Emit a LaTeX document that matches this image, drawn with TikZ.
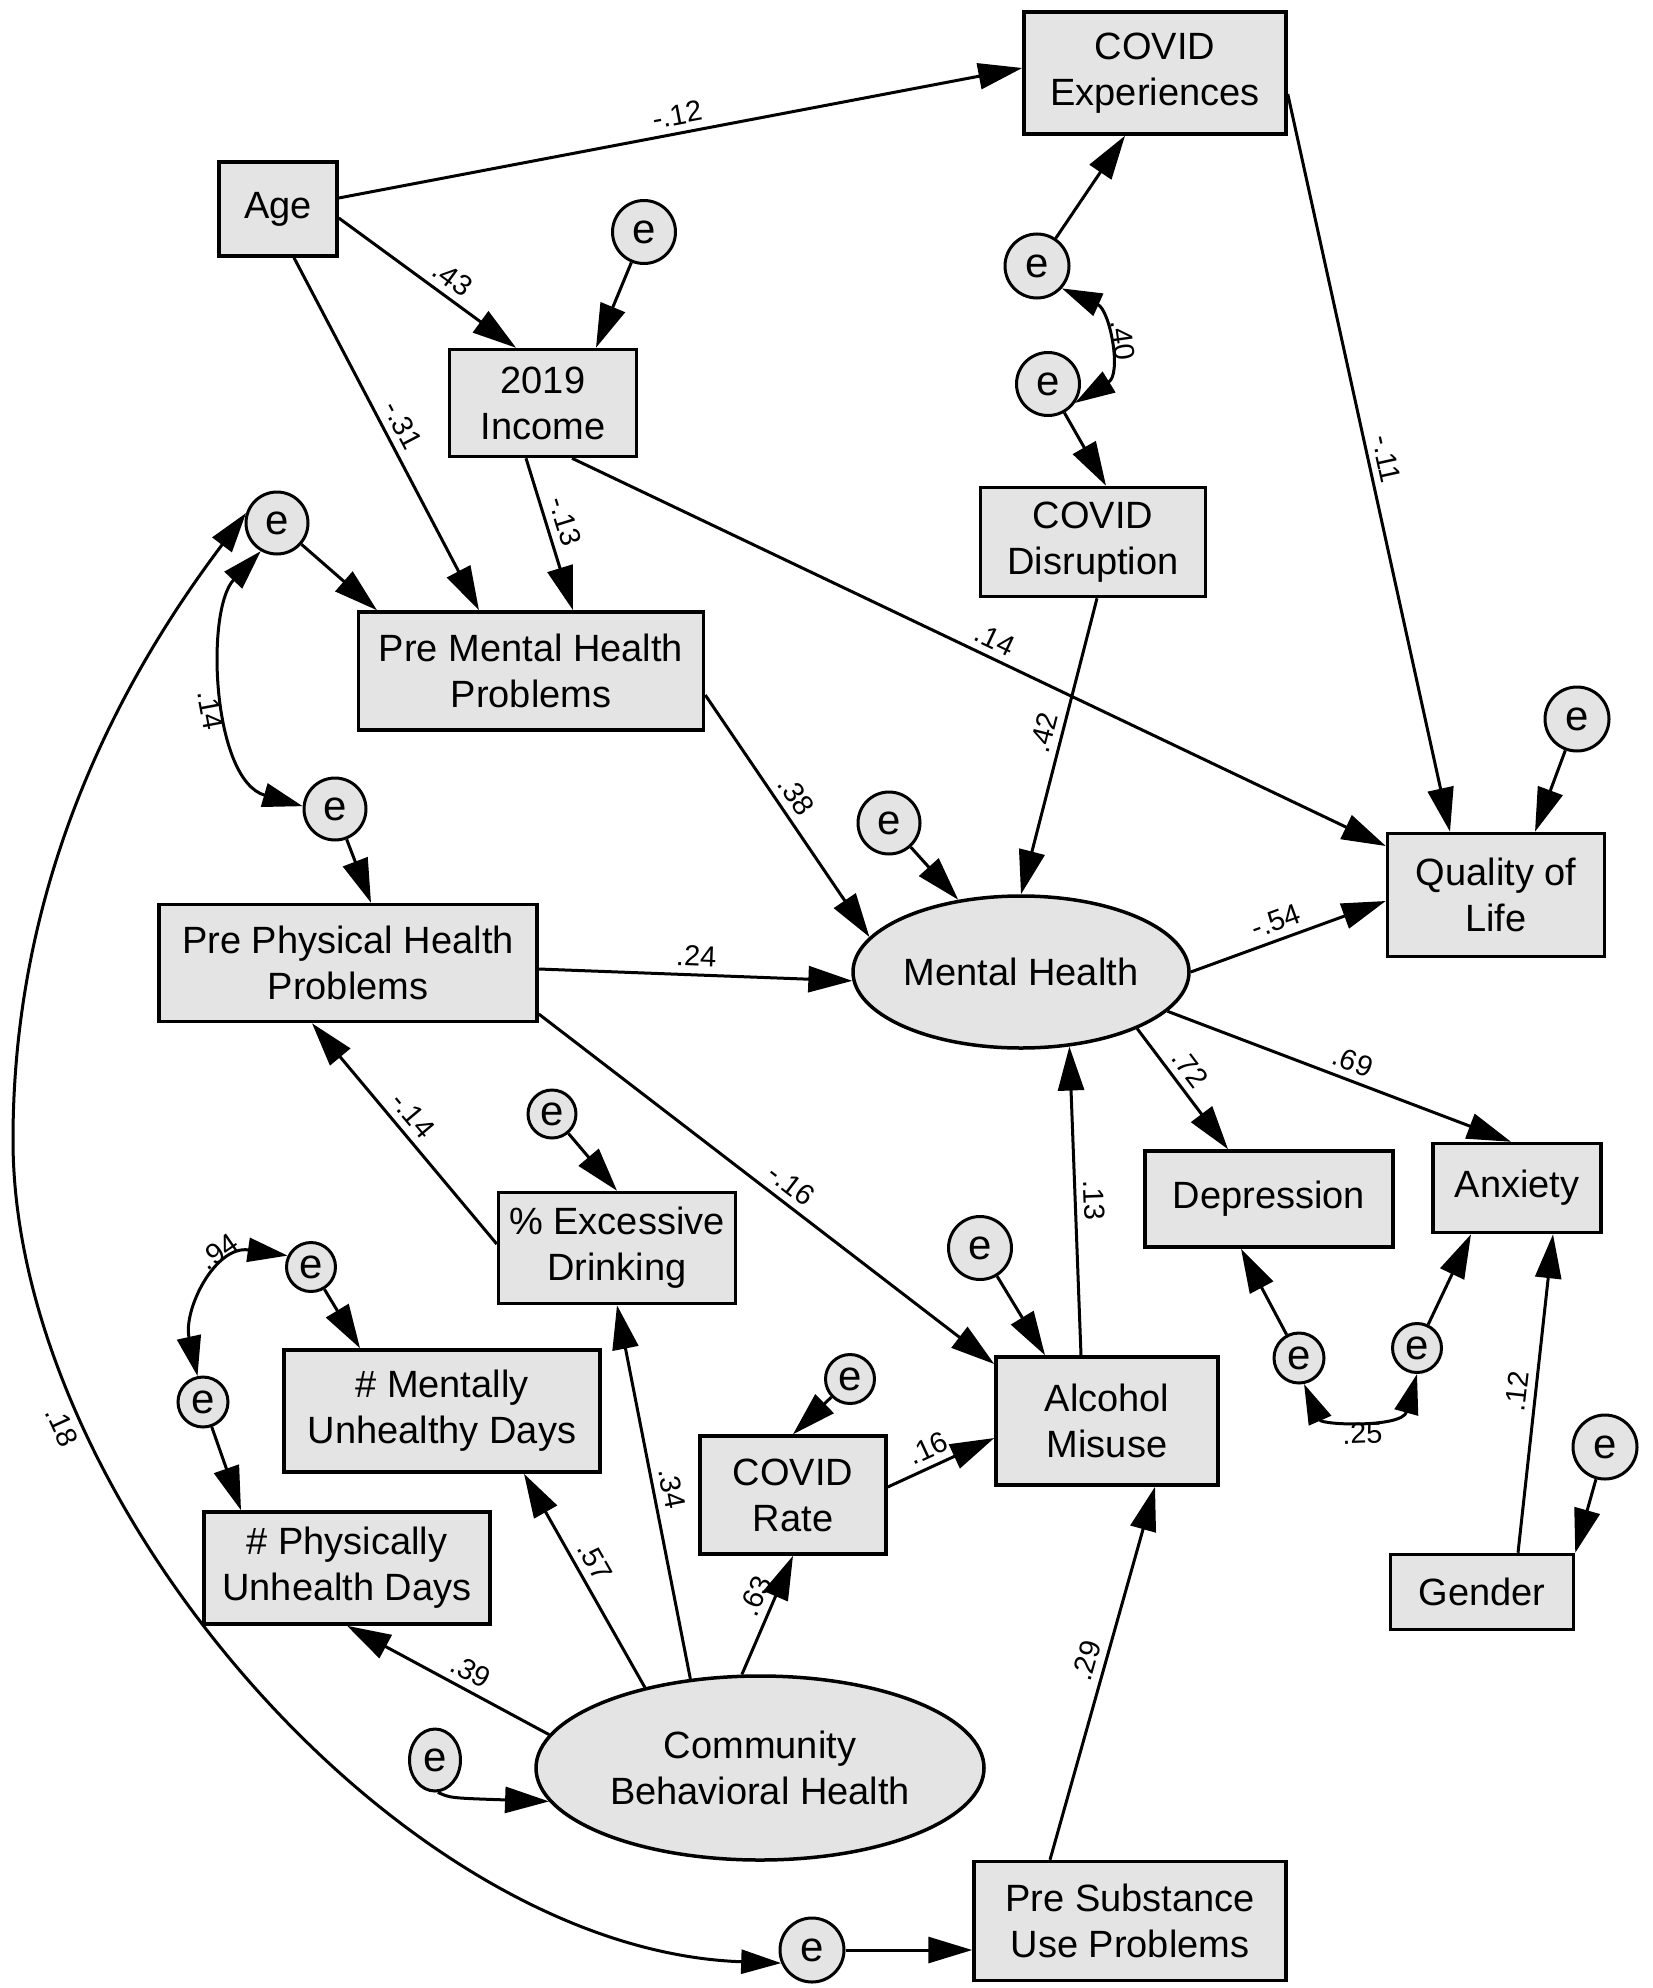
\documentclass[tikz,border=0pt]{standalone}
\usepackage{fontspec}
\setmainfont{Liberation Sans}
\usetikzlibrary{arrows.meta,shapes.geometric}
\definecolor{boxgray}{RGB}{228,228,228}
\begin{document}
\begin{tikzpicture}[x=1pt,y=-1pt,
  box/.style={draw=black,line width=3.5pt,fill=boxgray,inner sep=0pt,align=center,font=\fontsize{38}{46}\selectfont},
  lat/.style={box,ellipse},
  err/.style={circle,draw=black,line width=3pt,fill=boxgray,inner sep=0pt,font=\fontsize{42}{42}\selectfont},
  arr/.style={line width=3pt,-{Triangle[length=44pt,width=26pt]}},
  cov/.style={line width=3pt,{Triangle[length=40pt,width=24pt]}-{Triangle[length=40pt,width=24pt]}},
  lab/.style={font=\fontsize{29}{29}\selectfont,sloped,inner sep=7pt}]
\useasboundingbox (0,0) rectangle (1652,1988);

% nodes
\node[box,minimum width=118pt,minimum height=94pt] (age) at (278,209) {Age};
\node[box,minimum width=262pt,minimum height=122pt] (covexp) at (1155,73) {COVID\\Experiences};
\node[err,minimum size=63pt] (einc) at (644,232) {e};
\node[box,minimum width=187pt,minimum height=107pt] (income) at (543,403) {2019\\Income};
\node[err,minimum size=62pt] (epm) at (277,523) {e};
\node[box,minimum width=345pt,minimum height=118pt] (premental) at (531,671) {Pre Mental Health\\Problems};
\node[err,minimum size=64pt] (ece) at (1037,266) {e};
\node[err,minimum size=63pt] (ecd) at (1048,384) {e};
\node[box,minimum width=225pt,minimum height=109pt] (covdis) at (1093,542) {COVID\\Disruption};
\node[err,minimum size=64pt] (eq) at (1577,719) {e};
\node[box,minimum width=217pt,minimum height=123pt] (quality) at (1496,895) {Quality of\\Life};
\node[err,minimum size=62pt] (emh) at (889,823) {e};
\node[lat,minimum width=336pt,minimum height=152pt] (mh) at (1021,972) {Mental Health};
\node[err,minimum size=62pt] (epp) at (335,809) {e};
\node[box,minimum width=378pt,minimum height=117pt] (prephys) at (348,963) {Pre Physical Health\\Problems};
\node[err,minimum size=48pt] (eex) at (552,1114) {e};
\node[box,minimum width=237pt,minimum height=111pt] (excessive) at (617,1248) {\% Excessive\\Drinking};
\node[err,minimum size=49pt] (etop) at (311,1267) {e};
\node[err,minimum size=50pt] (ephy) at (203,1402) {e};
\node[box,minimum width=316pt,minimum height=122pt] (mentally) at (442,1411) {\# Mentally\\Unhealthy Days};
\node[box,minimum width=286pt,minimum height=112pt] (physically) at (347,1568) {\# Physically\\Unhealth Days};
\node[err,ellipse,minimum width=51pt,minimum height=62pt] (ecb) at (435,1760) {e};
\node[lat,minimum width=448pt,minimum height=184pt] (cb) at (760,1768) {Community\\Behavioral Health};
\node[err,minimum size=64pt] (eps) at (812,1950) {e};
\node[box,minimum width=312pt,minimum height=119pt] (presub) at (1130,1921) {Pre Substance\\Use Problems};
\node[err,minimum size=49pt] (ecr) at (850,1379) {e};
\node[box,minimum width=186pt,minimum height=118pt] (covrate) at (793,1495) {COVID\\Rate};
\node[err,minimum size=63pt] (ealc) at (980,1248) {e};
\node[box,minimum width=222pt,minimum height=128pt] (alcohol) at (1107,1421) {Alcohol\\Misuse};
\node[box,minimum width=248pt,minimum height=96pt] (depression) at (1269,1199) {Depression};
\node[box,minimum width=168pt,minimum height=89pt] (anxiety) at (1517,1188) {Anxiety};
\node[err,minimum size=50pt] (edep) at (1299,1358) {e};
\node[err,minimum size=49pt] (eanx) at (1417,1348) {e};
\node[err,minimum size=64pt] (eg) at (1605,1447) {e};
\node[box,minimum width=183pt,minimum height=75pt] (gender) at (1482,1592) {Gender};

% paths
\draw[arr] ([yshift=11pt]age.east) -- node[lab,pos=.5,above] {-.12} ([yshift=5pt]covexp.west);
\draw[arr] ([yshift=-9pt]age.east) -- node[lab,pos=.58,above] {.43} ([xshift=-27pt]income.north);
\draw[arr] (einc) -- ([xshift=53pt]income.north);
\draw[arr] ([xshift=16pt]age.south) -- node[lab,pos=.5,above] {-.31} ([xshift=-52pt]premental.north);
\draw[arr] (epm) -- ([xshift=-154pt]premental.north);
\draw[arr] ([xshift=-17pt]income.south) -- node[lab,pos=.45,above] {-.13} ([xshift=42pt]premental.north);
\draw[arr] ([xshift=29pt]income.south) -- node[lab,pos=.51,above] {.14} ([yshift=49pt]quality.west);
\draw[arr] (ece) -- ([xshift=-30pt]covexp.south);
\draw[arr] (ecd) -- ([xshift=13pt]covdis.north);
\draw[cov] (ece.-42) .. controls (1110,310) and (1122,374) .. node[lab,pos=.5,above] {.40} (ecd.-35);
\draw[arr] ([yshift=-21pt]covexp.east) -- node[lab,pos=.5,above] {-.11} ([xshift=-46pt]quality.north);
\draw[arr] (eq) -- ([xshift=39pt]quality.north);
\draw[arr] ([xshift=4pt]covdis.south) -- node[lab,pos=.47,above] {.42} (mh.north);
\draw[arr] ([yshift=-24pt]premental.east) -- node[lab,pos=.46,above] {.38} (mh.167);
\draw[arr] (emh) -- (mh.131);
\draw[arr] (epp) -- ([xshift=23pt]prephys.north);
\draw[arr] ([yshift=-6pt]prephys.east) -- node[lab,pos=.5,above] {.24} (mh.183);
\draw[arr] (mh.east) -- node[lab,pos=.47,above] {-.54} ([yshift=-6pt]quality.west);
\draw[arr] (mh.-26) -- node[lab,pos=.42,above] {.72} ([xshift=-41pt]depression.north);
\draw[arr] (mh.-15) -- node[lab,pos=.52,above] {.69} ([xshift=-6pt]anxiety.north);
\draw[arr] (ealc) -- ([xshift=-62pt]alcohol.north);
\draw[arr] ([xshift=-26pt]alcohol.north) -- node[lab,pos=.5,above] {.13} (mh.-57);
\draw[arr] ([yshift=-51pt]prephys.east) -- node[lab,pos=.53,above] {-.16} ([yshift=57pt]alcohol.west);
\draw[arr] (eex) -- (excessive.north);
\draw[arr] ([yshift=4pt]excessive.west) -- node[lab,pos=.53,above] {-.14} ([xshift=-36pt]prephys.south);
\draw[cov] (etop.154) .. controls (215,1245) and (183,1310) .. node[lab,pos=.33,above] {.94} (ephy.102);
\draw[arr] (etop) -- ([xshift=-82pt]mentally.north);
\draw[arr] (ephy) -- ([xshift=-106pt]physically.north);
\draw[arr] (cb.145) -- node[lab,pos=.55,above] {.57} ([xshift=82pt]mentally.south);
\draw[arr] (cb.128) -- node[lab,pos=.5,above] {.34} (excessive.south);
\draw[arr] (cb.171) -- node[lab,pos=.43,above] {.39} (physically.south);
\draw[arr] (cb.101) -- node[lab,pos=.6,above] {.63} (covrate.south);
\draw[arr] (ecr) -- (covrate.north);
\draw[arr] ([yshift=8pt]covrate.east) -- node[lab,pos=.45,above] {.16} ([yshift=-17pt]alcohol.west);
\draw[arr] ([xshift=-80pt]presub.north) -- node[lab,pos=.52,above] {.29} ([xshift=48pt]alcohol.south);
\draw[arr] (eps) -- ([yshift=-29pt]presub.west);
\draw[cov] (epm.162) .. controls (120,680) and (13,880) .. (13,1140)
  .. controls (13,1500) and (400,1950) .. (eps.-157) node[lab,pos=.25,below] {.18};
\draw[cov] (epm.-120) .. controls (205,610) and (212,780) .. node[lab,pos=.55,below] {.14} (epp.175);
\draw[arr] (eg) -- (gender.north east);
\draw[arr] ([xshift=36pt]gender.north) -- node[lab,pos=.5,above] {.12} ([xshift=36pt]anxiety.south);
\draw[arr] (edep) -- ([xshift=-28pt]depression.south);
\draw[arr] (eanx) -- ([xshift=-46pt]anxiety.south);
\draw[cov] (edep.-79) .. controls (1322,1425) and (1402,1428) .. node[lab,pos=.5,below] {.25} (eanx.-90);
\draw[arr] (ecb.-85) .. controls (450,1798) .. (cb.189);
\end{tikzpicture}
\end{document}
